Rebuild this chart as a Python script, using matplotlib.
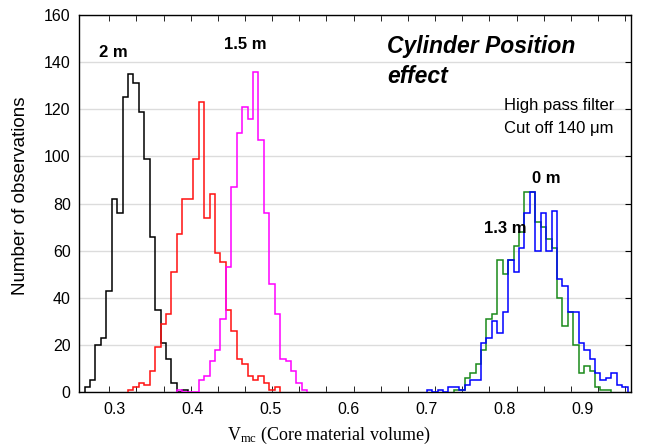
import numpy as np
import matplotlib
matplotlib.use("Agg")
import matplotlib.pyplot as plt

# common histogram bin grid (core material volume)
BIN0 = 0.2617
BIN_W = 0.006954

# counts per bin, each series starts at bin index given by *_start
black_start = 0
black_counts = [2, 5, 20, 23, 43, 82, 76, 125, 135, 131, 119, 99, 66, 35, 21, 14, 4, 0, 1]

red_start = 8
red_counts = [1, 2, 4, 3, 9, 19, 29, 33, 51, 67, 82, 82, 99, 123, 74, 84, 59, 55,
              35, 26, 14, 12, 7, 5, 7, 4, 1, 2]

magenta_start = 17
magenta_counts = [1, 0, 0, 0, 5, 7, 13, 18, 31, 53, 87, 110, 121, 116, 136, 107,
                  76, 46, 33, 14, 13, 9, 4, 1]

blue_start = 63
blue_counts = [1, 0, 1, 0, 2, 2, 1, 3, 5, 5, 21, 23, 30, 25, 34, 56, 51, 61, 76, 85,
               60, 76, 60, 77, 48, 45, 34, 34, 21, 18, 14, 8, 5, 6, 8, 3, 2]

green_start = 68
green_counts = [1, 1, 6, 8, 12, 18, 31, 33, 56, 50, 56, 62, 68, 85, 85, 72, 70, 65,
                61, 40, 28, 34, 20, 8, 11, 9, 2, 1, 1]

x_ticks = [0.3, 0.4, 0.5, 0.6, 0.7, 0.8, 0.9]
x_minor = [0.2933 + 0.03477 * i for i in range(20)]
y_ticks = [0, 20, 40, 60, 80, 100, 120, 140, 160]

plt.rcParams["font.family"] = ["Liberation Sans", "DejaVu Sans"]

fig = plt.figure(figsize=(6.46, 4.47), dpi=100)
ax = fig.add_axes([0.1223, 0.1230, 0.8545, 0.8434])


def draw(start, counts, color):
    edges = BIN0 + BIN_W * np.arange(start, start + len(counts) + 1)
    ax.stairs(counts, edges, color=color, linewidth=1.1, zorder=3)


draw(black_start, black_counts, "black")
draw(red_start, red_counts, "#ff1010")
draw(magenta_start, magenta_counts, "#ff00ff")
draw(green_start, green_counts, "#1a8a1a")
draw(blue_start, blue_counts, "#0000ff")

ax.set_xlim(0.2545, 0.9615)
ax.set_ylim(0, 160)
ax.set_xticks(x_ticks)
ax.set_xticklabels([f"{t:.1f}" for t in x_ticks])
ax.set_xticks([t for t in x_minor if t < 0.9615], minor=True)
ax.set_yticks(y_ticks)
ax.tick_params(axis="x", which="major", length=0, labelsize=11.5, pad=7)
ax.tick_params(axis="x", which="minor", direction="in", length=4, top=True, bottom=True)
ax.tick_params(axis="y", which="major", direction="in", length=4, left=False, right=True,
               labelsize=11.5, pad=6)
ax.grid(axis="y", color="#dcdcdc", linewidth=1.0, zorder=0)
ax.set_axisbelow(True)
for s in ax.spines.values():
    s.set_linewidth(1.0)

ax.set_ylabel("Number of observations", fontsize=13.5)
ax.yaxis.set_label_coords(-0.09, 0.52)
ax.set_xlabel(r"$\mathregular{V_{mc}}$ (Core material volume)", fontsize=13,
              family="Liberation Serif", va="center")
ax.xaxis.set_label_coords(0.453, -0.114)

ax.text(0.298, 144.3, "2 m", fontsize=12, fontweight="bold", ha="center", va="center")
ax.text(0.467, 147.3, "1.5 m", fontsize=12, fontweight="bold", ha="center", va="center")
ax.text(0.8527, 90.8, "0 m", fontsize=12, fontweight="bold", ha="center", va="center")
ax.text(0.800, 69.6, "1.3 m", fontsize=12, fontweight="bold", ha="center", va="center")
ax.text(0.649, 146.6, "Cylinder Position", fontsize=16.5, fontweight="bold",
        style="italic", ha="left", va="center")
ax.text(0.649, 133.7, "effect", fontsize=16.5, fontweight="bold",
        style="italic", ha="left", va="center")
ax.text(0.9397, 121.8, "High pass filter", fontsize=12, ha="right", va="center")
ax.text(0.9397, 112.0, "Cut off 140 μm", fontsize=12, ha="right", va="center")

fig.savefig("out.png", dpi=100)
